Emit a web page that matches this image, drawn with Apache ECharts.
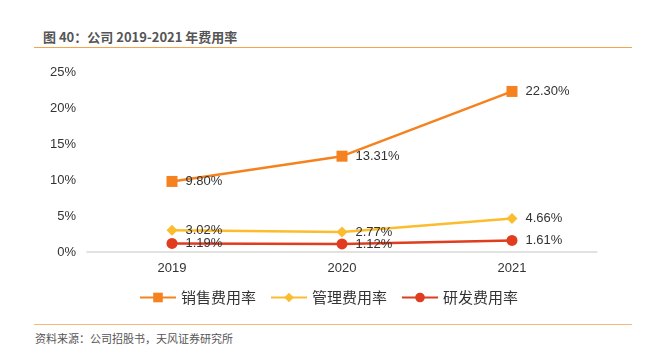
<!DOCTYPE html>
<html>
<head>
<meta charset="utf-8">
<script src="https://cdn.jsdelivr.net/npm/echarts@6/dist/echarts.min.js"></script>
<style>
  html, body { margin: 0; padding: 0; background: #fff; }
  #wrap { position: relative; width: 657px; height: 347px; font-family: "Noto Sans CJK SC", "Noto Sans", sans-serif; }
  #title { position: absolute; left: 43px; top: 27px; font-size: 13px; font-weight: bold; color: #555; }
  #topline { position: absolute; left: 34px; top: 47px; width: 598px; height: 0; border-top: 1.5px solid #F7A34C; }
  #botline { position: absolute; left: 34px; top: 324px; width: 598px; height: 0; border-top: 1.5px solid #F7B97A; }
  #source { position: absolute; left: 35px; top: 330px; font-size: 11px; color: #555; }
  #chart { position: absolute; left: 0; top: 50px; width: 657px; height: 270px; }
</style>
</head>
<body>
<div id="wrap">
  <div id="title">图 40：公司 2019-2021 年费用率</div>
  <div id="topline"></div>
  <div id="chart"></div>
  <div id="botline"></div>
  <div id="source">资料来源：公司招股书，天风证券研究所</div>
</div>
<script>
const years = ['2019', '2020', '2021'];
const salesRate = [9.80, 13.31, 22.30];
const adminRate = [3.02, 2.77, 4.66];
const rdRate = [1.19, 1.12, 1.61];
const seriesNames = ['销售费用率', '管理费用率', '研发费用率'];
const colors = ['#F5821F', '#FBBD2E', '#E03C1E'];
const symbols = ['rect', 'diamond', 'circle'];

const chart = echarts.init(document.getElementById('chart'));

function makeSeries(name, data, color, symbol) {
  return {
    name: name,
    type: 'line',
    data: data,
    symbol: symbol,
    symbolSize: 11,
    itemStyle: { color: color },
    lineStyle: { color: color, width: 2.5 },
    label: {
      show: true,
      position: 'right',
      distance: 8,
      color: '#333',
      fontSize: 13,
      fontFamily: 'Liberation Sans, sans-serif',
      formatter: p => p.value.toFixed(2) + '%'
    }
  };
}

chart.setOption({
  animation: false,
  grid: { left: 87, right: 60, top: 22, bottom: 68 },
  legend: {
    bottom: 10,
    left: 'center',
    itemWidth: 36,
    itemHeight: 12,
    itemGap: 14,
    textStyle: { fontSize: 15, color: '#333', fontFamily: 'Noto Sans CJK SC' },
    data: seriesNames
  },
  xAxis: {
    type: 'category',
    data: years,
    boundaryGap: true,
    axisLine: { lineStyle: { color: '#d9d9d9', width: 1.5 } },
    axisTick: { show: false },
    axisLabel: { color: '#333', fontSize: 13, margin: 10, fontFamily: 'Liberation Sans, sans-serif' }
  },
  yAxis: {
    type: 'value',
    min: 0,
    max: 25,
    interval: 5,
    splitLine: { show: false },
    axisLine: { show: false },
    axisTick: { show: false },
    axisLabel: { color: '#333', fontSize: 13, margin: 11, formatter: '{value}%', fontFamily: 'Liberation Sans, sans-serif' }
  },
  series: [
    makeSeries(seriesNames[0], salesRate, colors[0], symbols[0]),
    makeSeries(seriesNames[1], adminRate, colors[1], symbols[1]),
    makeSeries(seriesNames[2], rdRate, colors[2], symbols[2])
  ]
});
</script>
</body>
</html>
